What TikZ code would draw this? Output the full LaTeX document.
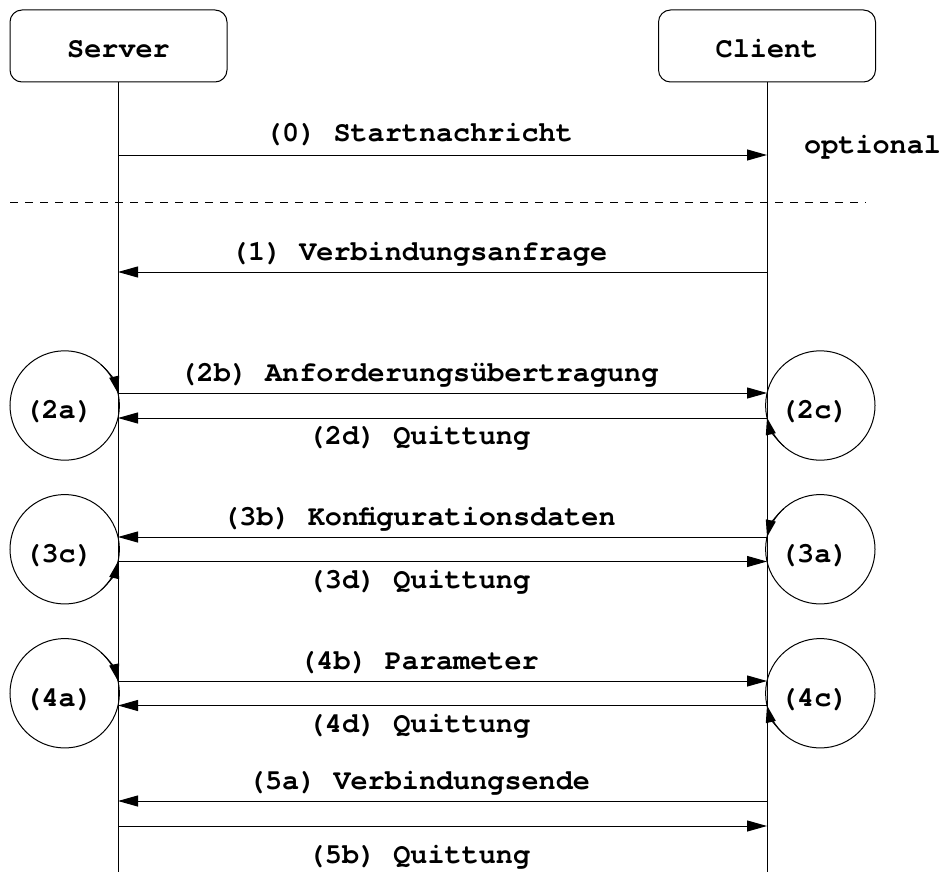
\documentclass[tikz,border=0pt]{standalone}
\usepackage{fontspec}
\setmonofont{texgyrecursor}[Extension=.otf, UprightFont=*-regular, BoldFont=*-bold]
\usetikzlibrary{arrows.meta}
\newcommand{\msgfont}{\fontsize{28.5}{34}\selectfont\ttfamily\bfseries}
\begin{document}
\begin{tikzpicture}[x=1pt,y=-1pt,
  lbl/.style={font=\msgfont, inner sep=0pt, anchor=base},
  actor/.style={draw, line width=1pt, rounded corners=12pt,
    minimum width=217pt, minimum height=72pt, inner sep=0pt},
  lifeline/.style={line width=1pt},
  msg/.style={line width=1pt, -{Triangle[length=20pt,width=11pt]}},
  state/.style={draw, circle, line width=1pt, minimum size=109.4pt, inner sep=0pt},
  selfarrow/.style={line width=1pt, -{Triangle[length=17pt,width=10pt]}},
  sep/.style={line width=1pt, dash pattern=on 8pt off 7pt}]
\useasboundingbox (0,0) rectangle (944,872);

% participants and lifelines
\node[actor] (server) at (118.5,46) {};
\node[lbl] (serverlbl) at (118.5,58) {Server};
\node[actor] (client) at (767,46) {};
\node[lbl] (clientlbl) at (767,58) {Client};
\coordinate (sEnd) at (118,872);
\coordinate (cEnd) at (767,872);
\draw[lifeline] (server.south -| sEnd) -- (sEnd);
\draw[lifeline] (client.south -| cEnd) -- (cEnd);

% end points of the messages on both lifelines
\foreach \n/\y in {0/155,1/272,2b/393,2d/418,3b/537,3d/561.5,4b/681,4d/705.5,5a/801,5b/826}{
  \coordinate (s\n) at (118,\y);
  \coordinate (c\n) at (767,\y);
}

% (0) optional start message
\draw[msg] (s0) -- (c0);
\node[lbl] (l0) at (419,142) {(0) Startnachricht};
\node[lbl, anchor=base west] (opt) at (804,153) {optional};

% separator
\coordinate (dL) at (10,202);
\coordinate (dR) at (866,202);
\draw[sep] (dL) -- (dR);

% (1) connection request
\draw[msg] (c1) -- (s1);
\node[lbl] (l1) at (419,260) {(1) Verbindungsanfrage};

% (2) request transfer
\draw[msg] (s2b) -- (c2b);
\node[lbl] (l2b) at (419,381) {(2b) Anforderungsübertragung};
\draw[msg] (c2d) -- (s2d);
\node[lbl] (l2d) at (419,444) {(2d) Quittung};

% (3) configuration data
\draw[msg] (c3b) -- (s3b);
\node[lbl] (l3b) at (419,525) {(3b) Konfigurationsdaten};
\draw[msg] (s3d) -- (c3d);
\node[lbl] (l3d) at (419,588) {(3d) Quittung};

% (4) parameters
\draw[msg] (s4b) -- (c4b);
\node[lbl] (l4b) at (419,669) {(4b) Parameter};
\draw[msg] (c4d) -- (s4d);
\node[lbl] (l4d) at (419,732) {(4d) Quittung};

% (5) end of connection
\draw[msg] (c5a) -- (s5a);
\node[lbl] (l5a) at (419,789) {(5a) Verbindungsende};
\draw[msg] (s5b) -- (c5b);
\node[lbl] (l5b) at (419,863) {(5b) Quittung};

% local processing steps
\def\rad{54.69}
\foreach \nm/\cx/\cy/\txt in {s2/64.7/405.5/(2a), c2/820.3/405.5/(2c),
                               s3/64.7/549.25/(3c), c3/820.3/549.25/(3a),
                               s4/64.7/693.25/(4a), c4/820.3/693.25/(4c)}{
  \node[state] (\nm) at (\cx,\cy) {};
  \node[lbl] (\nm lbl) at (\cx-6,\cy+13) {\txt};
}
% server side: (2a),(4a) enter from above, (3c) from below
\draw[selfarrow] ([shift={(-48:\rad)}]s2.center) arc[start angle=-48, end angle=-12.94, radius=\rad];
\draw[selfarrow] ([shift={(48:\rad)}]s3.center) arc[start angle=48, end angle=12.94, radius=\rad];
\draw[selfarrow] ([shift={(-48:\rad)}]s4.center) arc[start angle=-48, end angle=-12.94, radius=\rad];
% client side: (2c),(4c) enter from below, (3a) from above
\draw[selfarrow] ([shift={(132:\rad)}]c2.center) arc[start angle=132, end angle=167.06, radius=\rad];
\draw[selfarrow] ([shift={(228:\rad)}]c3.center) arc[start angle=228, end angle=192.94, radius=\rad];
\draw[selfarrow] ([shift={(132:\rad)}]c4.center) arc[start angle=132, end angle=167.06, radius=\rad];
\end{tikzpicture}
\end{document}
